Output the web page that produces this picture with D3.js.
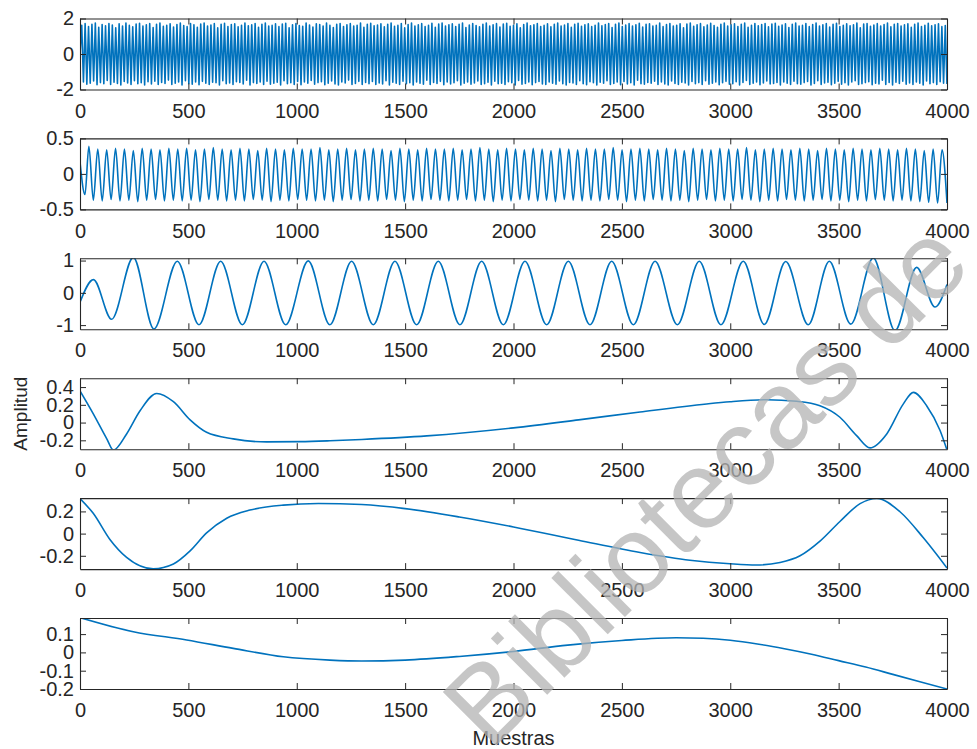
<!DOCTYPE html>
<html>
<head>
<meta charset="utf-8">
<script src="https://cdn.jsdelivr.net/npm/d3@7"></script>
<style>
  html, body { margin: 0; padding: 0; background: #fff; }
  svg { display: block; font-family: "Liberation Sans", Arial, sans-serif; }
</style>
</head>
<body>
<svg id="chart" width="977" height="749"></svg>
<script>
// --- data ---
const xTicks = [0, 500, 1000, 1500, 2000, 2500, 3000, 3500, 4000];
const yDomains = [[-2, 2], [-0.5, 0.5], [-1.13, 1.07], [-0.3, 0.5], [-0.32, 0.32], [-0.2, 0.188]];
const yTicks = [[-2, 0, 2], [-0.5, 0, 0.5], [-1, 0, 1], [-0.2, 0, 0.2, 0.4], [-0.2, 0, 0.2], [-0.2, -0.1, 0, 0.1]];

// panel 1: very dense oscillation, one peak and one trough per cycle
const sig1Peaks = [
  1.62,1.71,1.55,1.68,1.74,1.50,1.66,1.59,1.72,1.63,1.48,1.70,1.57,1.75,1.61,1.53,1.69,
  1.73,1.58,1.64,1.71,1.49,1.67,1.74,1.56,1.62,1.70,1.52,1.66,1.75,1.60,1.54,1.72,1.65,
  1.51,1.69,1.74,1.58,1.63,1.71,1.47,1.68,1.73,1.55,1.66,1.70,1.53,1.62,1.75,1.59,1.64,
  1.72,1.50,1.67,1.74,1.57,1.61,1.70,1.54,1.69,1.73,1.48,1.65,1.71,1.60,1.56,1.74,1.63,
  1.52,1.70,1.66,1.58,1.75,1.61,1.49,1.68,1.72,1.55,1.64,1.71,1.57,1.62,1.74,1.50,1.67,
  1.73,1.59,1.63,1.70,1.53,1.68,1.75,1.56,1.61,1.72,1.47,1.66,1.74,1.58,1.65,1.71,1.54,
  1.62,1.73,1.51,1.69,1.74,1.57,1.64,1.70,1.55,1.67,1.75,1.49,1.63,1.72,1.60,1.53,1.68,
  1.74,1.58,1.65,1.71,1.52,1.69,1.73,1.56,1.62,1.70,1.48,1.66,1.75,1.59,1.64,1.72,1.55,
  1.61,1.70,1.53,1.67,1.74,1.57,1.63,1.71,1.50,1.68,1.73,1.56,1.65,1.70,1.54,1.62,1.75,
  1.59,1.66,1.72,1.49,1.68,1.74,1.55,1.63,1.71,1.58,1.64,1.73,1.52,1.67,1.70,1.57,1.61,
  1.75,1.54,1.66,1.72,1.58,1.62,1.70,1.48,1.69,1.74,1.56,1.65,1.71,1.53,1.63,1.73,1.60,
  1.51,1.68,1.74,1.57,1.64,1.70,1.55,1.67,1.75,1.50,1.62,1.72,1.59,1.66,1.71,1.53,1.69,
  1.73,1.56,1.63,1.70,1.49,1.68,1.74,1.58,1.61,1.72,1.54,1.66,1.75,1.57,1.64,1.71,1.52,
  1.67,1.73,1.55,1.62,1.70,1.59,1.65,1.74,1.48,1.69,1.72,1.56,1.63,1.71,1.58,1.66,1.74,
  1.53,1.68,1.72,1.57,1.64,1.70,1.51,1.67,1.75,1.55,1.62,1.73,1.59,1.65,1.70,1.54,1.60
];
const sig1Troughs = [
  -1.58,-1.70,-1.64,-1.52,-1.73,-1.61,-1.67,-1.49,-1.72,-1.59,-1.66,-1.74,-1.55,-1.63,-1.71,-1.50,-1.68,
  -1.62,-1.75,-1.56,-1.69,-1.53,-1.72,-1.60,-1.66,-1.47,-1.71,-1.64,-1.58,-1.74,-1.51,-1.67,-1.70,-1.57,
  -1.73,-1.54,-1.65,-1.71,-1.59,-1.62,-1.75,-1.50,-1.68,-1.63,-1.72,-1.56,-1.60,-1.69,-1.48,-1.74,-1.61,
  -1.66,-1.57,-1.72,-1.53,-1.70,-1.64,-1.59,-1.74,-1.51,-1.67,-1.62,-1.71,-1.55,-1.73,-1.58,-1.65,-1.49,
  -1.70,-1.61,-1.56,-1.73,-1.64,-1.52,-1.69,-1.75,-1.58,-1.63,-1.47,-1.71,-1.66,-1.54,-1.72,-1.60,-1.67,
  -1.55,-1.72,-1.63,-1.69,-1.50,-1.74,-1.59,-1.65,-1.71,-1.53,-1.68,-1.62,-1.75,-1.57,-1.64,-1.70,-1.48,
  -1.71,-1.60,-1.66,-1.54,-1.73,-1.58,-1.69,-1.62,-1.51,-1.74,-1.65,-1.57,-1.70,-1.63,-1.52,-1.72,-1.67,
  -1.59,-1.74,-1.53,-1.68,-1.64,-1.71,-1.56,-1.62,-1.75,-1.49,-1.70,-1.66,-1.58,-1.73,-1.61,-1.55,-1.69,
  -1.72,-1.57,-1.65,-1.70,-1.52,-1.67,-1.74,-1.60,-1.63,-1.71,-1.50,-1.68,-1.73,-1.56,-1.62,-1.75,-1.59,
  -1.64,-1.51,-1.71,-1.66,-1.58,-1.73,-1.55,-1.69,-1.62,-1.74,-1.48,-1.67,-1.70,-1.60,-1.65,-1.53,-1.72,
  -1.57,-1.69,-1.74,-1.52,-1.66,-1.71,-1.59,-1.63,-1.75,-1.55,-1.68,-1.61,-1.72,-1.50,-1.70,-1.64,-1.58,
  -1.73,-1.62,-1.54,-1.70,-1.67,-1.56,-1.74,-1.60,-1.49,-1.71,-1.65,-1.58,-1.73,-1.63,-1.52,-1.69,-1.66,
  -1.60,-1.75,-1.57,-1.64,-1.72,-1.53,-1.68,-1.70,-1.61,-1.55,-1.74,-1.66,-1.51,-1.71,-1.63,-1.59,-1.73,
  -1.65,-1.54,-1.70,-1.62,-1.74,-1.58,-1.50,-1.72,-1.67,-1.61,-1.56,-1.73,-1.64,-1.69,-1.48,-1.71,-1.60,
  -1.74,-1.59,-1.66,-1.53,-1.70,-1.63,-1.72,-1.57,-1.65,-1.75,-1.52,-1.68,-1.61,-1.71,-1.56,-1.64,-1.69
];
const sig1Span = [8, 3992]; // first and last peak, in samples

// panel 2: about 97 cycles
const sig2Lead = [[0, 0.17], [23, -0.29]];
const sig2Peaks = [
  0.39,0.35,0.34,0.36,0.35,0.33,0.36,0.35,0.34,0.36,
  0.35,0.36,0.34,0.35,0.37,0.35,0.34,0.36,0.35,0.33,
  0.36,0.35,0.34,0.36,0.35,0.35,0.37,0.34,0.35,0.36,
  0.34,0.35,0.36,0.35,0.33,0.36,0.35,0.34,0.36,0.35,
  0.35,0.36,0.34,0.35,0.37,0.35,0.34,0.36,0.35,0.34,
  0.36,0.35,0.33,0.36,0.35,0.34,0.36,0.35,0.35,0.37,
  0.34,0.35,0.36,0.35,0.34,0.36,0.35,0.33,0.36,0.35,
  0.34,0.36,0.35,0.35,0.37,0.34,0.35,0.36,0.35,0.34,
  0.36,0.35,0.33,0.36,0.35,0.34,0.36,0.35,0.34,0.36,
  0.35,0.34,0.36,0.35,0.33,0.35,0.34
];
const sig2Troughs = [
  -0.37,-0.38,-0.36,-0.38,-0.37,-0.39,-0.37,-0.36,-0.38,-0.37,
  -0.38,-0.37,-0.39,-0.36,-0.37,-0.38,-0.37,-0.38,-0.36,-0.37,
  -0.39,-0.37,-0.38,-0.36,-0.37,-0.38,-0.37,-0.39,-0.37,-0.36,
  -0.38,-0.37,-0.38,-0.36,-0.37,-0.39,-0.37,-0.38,-0.36,-0.37,
  -0.38,-0.37,-0.36,-0.38,-0.37,-0.39,-0.37,-0.38,-0.36,-0.37,
  -0.38,-0.37,-0.39,-0.36,-0.37,-0.38,-0.37,-0.38,-0.36,-0.37,
  -0.39,-0.37,-0.38,-0.36,-0.37,-0.38,-0.37,-0.39,-0.37,-0.36,
  -0.38,-0.37,-0.38,-0.36,-0.37,-0.39,-0.37,-0.38,-0.36,-0.37,
  -0.38,-0.37,-0.36,-0.38,-0.37,-0.39,-0.37,-0.38,-0.36,-0.37,
  -0.38,-0.37,-0.38,-0.39,-0.40,-0.41
];
const sig2Span = [41, 3977];
const sig2Tail = [[4000, -0.41]];

// panels 3-6: [sample, amplitude] at the turning points
const sig3 = [
  [0,-0.29],[62,0.41],[146,-0.82],[246,1.10],[341,-1.12],[449,0.98],[549,-0.99],[649,0.98],
  [749,-0.99],[849,0.98],[949,-0.99],[1053,0.99],[1153,-0.99],[1253,0.98],[1353,-0.99],[1453,0.98],
  [1553,-0.99],[1653,0.98],[1753,-0.99],[1853,0.98],[1953,-0.99],[2053,0.98],[2153,-0.99],[2253,0.98],
  [2353,-0.99],[2453,0.98],[2553,-0.99],[2653,0.98],[2756,-0.99],[2857,0.98],[2957,-0.99],[3060,0.98],
  [3157,-0.98],[3256,0.97],[3360,-0.99],[3457,0.98],[3556,-0.97],[3660,1.08],[3760,-1.17],[3860,0.79],
  [3945,-0.44],[4000,0.26]
];
const sig4 = [
  [0,0.357],[62,0.096],[123,-0.18],[154,-0.31],[215,-0.128],[277,0.133],[354,0.328],[431,0.235],
  [508,0.03],[584,-0.11],[707,-0.184],[861,-0.218],[1015,-0.215],[1153,-0.205],[1300,-0.19],[1600,-0.15],
  [2000,-0.06],[2300,0.03],[2584,0.12],[2891,0.21],[2999,0.235],[3168,0.258],[3306,0.24],[3414,0.19],
  [3506,0.06],[3583,-0.147],[3645,-0.285],[3722,-0.128],[3798,0.208],[3845,0.34],[3906,0.19],
  [3968,-0.09],[4000,-0.31]
];
const sig5 = [
  [0,0.316],[61,0.183],[138,-0.053],[215,-0.215],[338,-0.318],[431,-0.274],[508,-0.156],[584,0.006],
  [677,0.139],[784,0.212],[938,0.257],[1100,0.272],[1300,0.262],[1500,0.225],[1750,0.15],[2000,0.06],
  [2300,-0.06],[2584,-0.17],[2814,-0.24],[2999,-0.272],[3120,-0.283],[3230,-0.26],[3322,-0.2],[3414,-0.068],
  [3506,0.109],[3599,0.27],[3676,0.316],[3783,0.197],[3891,-0.038],[4000,-0.31]
];
const sig6 = [
  [0,0.19],[246,0.113],[492,0.068],[707,0.022],[938,-0.024],[1153,-0.042],[1300,-0.047],[1500,-0.042],
  [1750,-0.022],[2000,0.005],[2250,0.04],[2500,0.065],[2750,0.08],[2875,0.077],[3000,0.066],[3125,0.046],
  [3250,0.02],[3375,-0.01],[3500,-0.045],[3625,-0.08],[3750,-0.12],[3875,-0.16],[4000,-0.2]
];

// --- layout ---
const INK = "#262626";
const BLUE = "#0072BD";
const box = { left: 80, right: 947, top: 18.5, step: 119.9, height: 71 };
const FONT = 20;

// interleave peaks and troughs at evenly spaced sample positions
function zigzag(peaks, troughs, span) {
  const pos = d3.scaleLinear().domain([0, peaks.length - 1]).range(span);
  const half = (pos(1) - pos(0)) / 2;
  const pts = [];
  peaks.forEach((p, i) => {
    pts.push([pos(i), p]);
    if (i < troughs.length) pts.push([pos(i) + half, troughs[i]]);
  });
  return pts;
}

const sig1 = [[0, 0]].concat(zigzag(sig1Peaks, sig1Troughs, sig1Span));
const sig2 = sig2Lead.concat(zigzag(sig2Peaks, sig2Troughs, sig2Span), sig2Tail);
const series = [sig1, sig2, sig3, sig4, sig5, sig6];

const svg = d3.select("#chart");
const x = d3.scaleLinear().domain([0, 4000]).range([box.left, box.right]);

function styleAxis(sel) {
  sel.attr("font-size", FONT).attr("font-family", null);
  sel.select(".domain").attr("stroke", INK).attr("stroke-width", 1.1);
  sel.selectAll(".tick line").attr("stroke", INK).attr("stroke-width", 1);
  sel.selectAll(".tick text").attr("fill", INK);
}

series.forEach((data, i) => {
  const top = box.top + i * box.step;
  const bottom = top + box.height;
  const y = d3.scaleLinear().domain(yDomains[i]).range([bottom, top]);
  const g = svg.append("g");

  g.append("clipPath").attr("id", `clip${i}`)
    .append("rect").attr("x", box.left).attr("y", top).attr("width", box.right - box.left).attr("height", box.height);

  const line = d3.line().x(d => x(d[0])).y(d => y(d[1]))
    .curve(i === 0 ? d3.curveLinear : d3.curveMonotoneX);

  g.append("path").datum(data)
    .attr("clip-path", `url(#clip${i})`)
    .attr("fill", "none").attr("stroke", BLUE)
    .attr("stroke-width", 1.6)
    .attr("stroke-linejoin", "round")
    .attr("d", line);

  g.append("g").attr("transform", `translate(0,${bottom})`)
    .call(d3.axisBottom(x).tickValues(xTicks).tickSizeInner(-6).tickSizeOuter(0).tickPadding(14).tickFormat(d3.format("d")))
    .call(styleAxis);
  g.append("g").attr("transform", `translate(0,${top})`)
    .call(d3.axisTop(x).tickValues(xTicks).tickSizeInner(-6).tickSizeOuter(0).tickFormat(""))
    .call(styleAxis);
  g.append("g").attr("transform", `translate(${box.left},0)`)
    .call(d3.axisLeft(y).tickValues(yTicks[i]).tickSizeInner(-6).tickSizeOuter(0).tickPadding(6).tickFormat(d => String(d)))
    .call(styleAxis);
  g.append("g").attr("transform", `translate(${box.right},0)`)
    .call(d3.axisRight(y).tickValues(yTicks[i]).tickSizeInner(-6).tickSizeOuter(0).tickFormat(""))
    .call(styleAxis);
});

// axis titles
svg.append("text")
  .attr("x", (box.left + box.right) / 2).attr("y", 745)
  .attr("text-anchor", "middle").attr("font-size", FONT).attr("fill", INK)
  .text("Muestras");

const p4mid = box.top + 3 * box.step + box.height / 2;
svg.append("text")
  .attr("transform", `translate(27,${p4mid}) rotate(-90)`)
  .attr("text-anchor", "middle").attr("font-size", 19).attr("fill", INK)
  .text("Amplitud");

// watermark across the lower right
svg.append("text")
  .attr("transform", "translate(490,752) rotate(-45)")
  .attr("font-size", 110).attr("fill", "#b4b4b4").attr("opacity", 0.75)
  .text("Bibliotecas de");
</script>
</body>
</html>
